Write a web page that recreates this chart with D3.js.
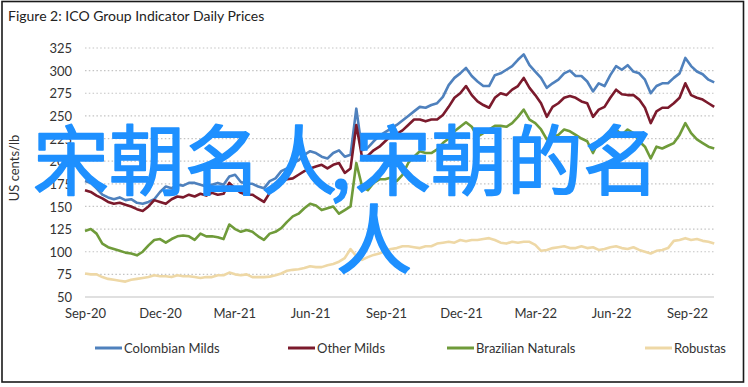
<!DOCTYPE html>
<html><head><meta charset="utf-8">
<script src="https://cdn.jsdelivr.net/npm/d3@7"></script>
<style>body{margin:0;background:#fff}svg{display:block}</style>
</head><body><svg id="c" width="748" height="387"></svg>
<script>
const startDate = new Date(2020, 8, 1);
const tickLabels = ["Sep-20","Dec-20","Mar-21","Jun-21","Sep-21","Dec-21","Mar-22","Jun-22","Sep-22"];
const yTicks = [50,75,100,125,150,175,200,225,250,275,300,325];
const seriesNames = ["Colombian Milds","Other Milds","Brazilian Naturals","Robustas"];
const colombian = [178,176,170,163,160,158,160,157,158,154,153,155,158,166,172,170,174,173,176,176,174,172,174,176,174,183,185,177,175,175,172,170,178,181,189,192,198,201,207,211,209,205,203,209,212,205,207,258,212,215,222,228,232,236,240,245,250,255,260,259,262,264,271,284,292,297,303,294,288,283,283,295,297,301,305,312,318,306,299,292,281,286,290,297,300,294,294,288,277,286,283,295,305,301,306,299,297,290,275,283,286,286,292,297,314,305,299,296,290,287];
const otherMilds = [168,166,162,159,155,153,154,152,150,147,145,150,157,155,153,158,161,160,163,161,164,162,165,163,164,176,170,165,163,163,159,155,165,170,178,180,181,185,189,192,194,196,192,196,198,187,192,240,204,206,212,216,222,228,230,234,240,246,246,244,246,246,251,260,270,275,283,273,266,262,259,270,275,273,279,283,292,281,273,264,249,260,264,270,272,270,266,264,249,257,260,270,279,274,273,273,268,259,242,255,259,259,264,270,286,273,270,268,264,260];
const brazilian = [123,125,120,109,105,103,101,99,98,96,100,107,113,114,110,114,117,118,117,113,120,117,117,116,114,130,125,122,124,122,117,113,120,122,126,133,139,142,148,153,151,146,148,150,142,146,150,198,172,168,176,180,180,182,178,185,198,205,211,209,209,213,220,225,233,238,243,238,227,231,235,239,239,238,242,249,257,246,242,235,224,227,229,235,233,229,225,222,209,222,222,227,235,229,235,231,222,216,203,216,214,217,220,229,242,231,224,220,216,214];
const robustas = [76,75,75,72,70,69,68,67,69,70,71,72,74,73,73,72,74,73,73,72,71,72,72,74,74,77,75,74,75,72,72,72,72.5,74,76,79,80,80.6,82,84,83,83,85,86.5,89,93,103,95,91,94,96.5,98,101,103,104,106,106,105,104,106,106,109,110,111,110,113,111.5,113,113,114,115,113,110,109,111,110,111,111,107.5,101,102,104,105,106,104,104,106,104,105,102,103,105,106,104,103,105,102,100,98,101,102,104,112,113,115,113,114,112,111,109];
const colors = ["#4F81BD","#7B1A2C","#6F9B3A","#EED8A6"];

const svg = d3.select("#c");
const font = "Lato, 'Liberation Sans', sans-serif";
svg.append("rect").attr("x",2).attr("y",1.5).attr("width",741.5).attr("height",380.5)
  .attr("fill","#fff").attr("stroke","#1a1a1a").attr("stroke-width",1.6);
svg.append("text").attr("x",8).attr("y",21).attr("font-family",font).attr("font-size",14)
  .attr("fill","#222").text("Figure 2: ICO Group Indicator Daily Prices");

const tickDates = tickLabels.map((d,i)=>d3.timeMonth.offset(startDate, 3*i));
const x = d3.scaleTime().domain([tickDates[0], tickDates[8]]).range([85, 687]);
const y = d3.scaleLinear().domain([50, 325]).range([297, 48]);
const dates = colombian.map((_, i) => d3.timeDay.offset(startDate, 7*i));
const xEnd = 714;

// grid
svg.append("g").selectAll("line").data(yTicks.filter(v=>v>50)).join("line")
  .attr("x1",85).attr("x2",xEnd).attr("y1",d=>y(d)).attr("y2",d=>y(d))
  .attr("stroke","#C4C4C4").attr("stroke-width",1.2).attr("stroke-dasharray","1.5,2.3");
svg.append("line").attr("x1",85).attr("x2",xEnd).attr("y1",y(50)).attr("y2",y(50))
  .attr("stroke","#D6D6D6").attr("stroke-width",1.5);

// y axis labels
const yAxis = d3.axisLeft(y).tickValues(yTicks).tickSize(0).tickPadding(0);
const gy = svg.append("g").attr("transform","translate(72,0)").call(yAxis);
gy.select(".domain").remove();
gy.selectAll("text").attr("font-family",font).attr("font-size",13).attr("fill","#333").attr("dy","0.35em");

// x axis labels
const xAxis = d3.axisBottom(x).tickValues(tickDates).tickFormat((d,i)=>tickLabels[i]).tickSize(0).tickPadding(0);
const gx = svg.append("g").attr("transform","translate(0,313)").call(xAxis);
gx.select(".domain").remove();
gx.selectAll("text").attr("font-family",font).attr("font-size",13).attr("fill","#333").attr("dy","0.35em");

svg.append("text").attr("transform","translate(19,168) rotate(-90)").attr("text-anchor","middle")
  .attr("font-family",font).attr("font-size",13).attr("fill","#333").text("US cents/lb");

const line = d3.line().x((d,i)=>x(dates[i])).y(d=>y(d));
[colombian, otherMilds, brazilian, robustas].forEach((s,k)=>{
  svg.append("path").attr("d", line(s)).attr("fill","none").attr("stroke",colors[k])
    .attr("stroke-width",2.6).attr("stroke-linejoin","round");
});

// legend
const legX = [95, 288, 447, 645];
seriesNames.forEach((n,k)=>{
  svg.append("line").attr("x1",legX[k]).attr("x2",legX[k]+27).attr("y1",348).attr("y2",348)
    .attr("stroke",colors[k]).attr("stroke-width",3);
  svg.append("text").attr("x",legX[k]+29).attr("y",348).attr("dy","0.35em")
    .attr("font-family",font).attr("font-size",13).attr("fill","#333").text(n);
});

// overlay text
const wm = svg.append("g").attr("font-family","'Noto Sans CJK SC', sans-serif").attr("font-size",76)
  .attr("fill","#1E90FF").attr("stroke","#1E90FF").attr("stroke-width",1.6).attr("stroke-linejoin","round");
wm.append("text").attr("x",33).attr("y",189).text("宋朝名人");
wm.append("text").attr("x",330).attr("y",189).text(",");
wm.append("text").attr("x",355).attr("y",189).text("宋朝的名");
wm.append("text").attr("x",336).attr("y",268).text("人");
</script></body></html>
